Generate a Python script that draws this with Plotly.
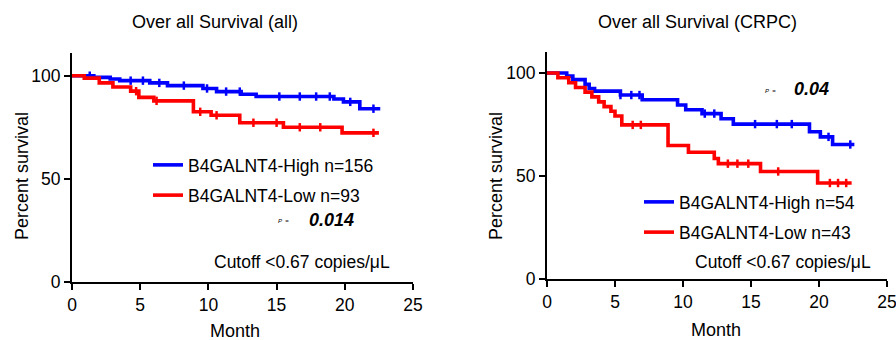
import plotly.graph_objects as go
import bisect

# ---------------- data ----------------
months_ticks = [0, 5, 10, 15, 20, 25]
surv_ticks = [0, 50, 100]

all_high_t = [0, 1.6, 2.8, 3.5, 5.7, 7.0, 9.6, 10.6, 12.4, 13.5, 19.2, 19.9, 21.1, 22.6]
all_high_s = [100, 99.2, 98.4, 97.6, 96.5, 95.2, 93.8, 92.3, 91.0, 89.9, 88.7, 87.3, 84.0, 84.0]
all_high_cens = [1.3, 4.3, 5.2, 6.4, 8.2, 9.9, 11.3, 12.3, 15.2, 16.7, 17.9, 18.9, 20.4, 22.1]

all_low_t = [0, 0.9, 2.0, 3.0, 4.3, 4.9, 6.0, 8.9, 10.2, 12.3, 15.5, 19.8, 22.5]
all_low_s = [100, 98.8, 96.5, 94.5, 92.5, 89.5, 87.8, 82.5, 80.8, 77.2, 75.0, 72.3, 72.3]
all_low_cens = [4.7, 6.2, 9.4, 10.6, 13.3, 15.0, 16.7, 18.2, 22.1]

crpc_high_t = [0, 1.45, 1.9, 2.8, 3.1, 3.5, 5.4, 7.0, 9.6, 10.2, 11.4, 12.8, 13.7, 19.3, 20.1, 21.0, 22.6]
crpc_high_s = [100, 98.5, 96.8, 94.5, 92.5, 91.2, 89.3, 87.0, 84.5, 82.2, 80.3, 77.8, 75.2, 71.5, 69.0, 65.3, 65.3]
crpc_high_cens = [5.4, 6.2, 6.8, 11.6, 12.3, 15.3, 16.9, 18.0, 20.7, 22.3]

crpc_low_t = [0, 0.8, 1.6, 2.1, 2.8, 3.3, 3.8, 4.2, 4.7, 5.0, 5.5, 8.9, 10.4, 12.3, 12.6, 15.7, 19.9, 22.4]
crpc_low_s = [100, 97.7, 95.3, 93.0, 90.7, 88.4, 86.0, 83.7, 81.4, 79.1, 74.8, 64.8, 61.5, 58.5, 56.0, 52.2, 46.6, 46.6]
crpc_low_cens = [6.3, 6.9, 13.3, 14.0, 14.8, 17.0, 20.8, 21.4, 22.0]

labels_all = ["B4GALNT4-High n=156", "B4GALNT4-Low n=93"]
labels_crpc = ["B4GALNT4-High n=54", "B4GALNT4-Low n=43"]
titles = ["Over all Survival (all)", "Over all Survival (CRPC)"]
p_values = ["0.014", "0.04"]
cutoff_text = "Cutoff <0.67 copies/\u03bcL"

BLUE = "#0000ff"
RED = "#ff0000"
FONT = "Liberation Sans, Arial, sans-serif"


def step_at(ts, ss, t):
    i = bisect.bisect_right(ts, t) - 1
    return ss[max(i, 0)]


fig = go.Figure()


def add_curve(ts, ss, cens, color, name, xa, ya, legend):
    fig.add_trace(go.Scatter(
        x=ts, y=ss, mode="lines", line=dict(color=color, width=3.6, shape="hv"),
        name=name, xaxis=xa, yaxis=ya, legend=legend, legendgroup=name,
        showlegend=True))
    fig.add_trace(go.Scatter(
        x=cens, y=[step_at(ts, ss, c) for c in cens], mode="markers",
        marker=dict(symbol="line-ns", size=6, line=dict(color=color, width=2.5)),
        xaxis=xa, yaxis=ya, showlegend=False, hoverinfo="skip"))


add_curve(all_high_t, all_high_s, all_high_cens, BLUE, labels_all[0], "x", "y", "legend")
add_curve(all_low_t, all_low_s, all_low_cens, RED, labels_all[1], "x", "y", "legend")
add_curve(crpc_high_t, crpc_high_s, crpc_high_cens, BLUE, labels_crpc[0], "x2", "y2", "legend2")
add_curve(crpc_low_t, crpc_low_s, crpc_low_cens, RED, labels_crpc[1], "x2", "y2", "legend2")

W, H = 896, 340


def px(x):
    return x / W


def py(y):
    return 1 - y / H


axis_common = dict(
    showgrid=False, zeroline=False, showline=True, linecolor="black", linewidth=2,
    ticks="outside", ticklen=6, tickwidth=2, tickcolor="black", automargin=False,
    ticklabeloverflow="allow",
    tickfont=dict(family=FONT, size=17.5, color="black"), fixedrange=True,
)

LEG_FONT = 17.5
fig.update_layout(
    width=W, height=H,
    margin=dict(l=0, r=0, t=0, b=0, autoexpand=False),
    paper_bgcolor="white", plot_bgcolor="white",
    font=dict(family=FONT, color="black"),
    xaxis=dict(domain=[px(72), px(413)], range=[0, 25], tickvals=months_ticks,
               anchor="y", **axis_common),
    yaxis=dict(domain=[py(282), py(53)], range=[0, 111], tickvals=surv_ticks,
               anchor="x", **axis_common),
    xaxis2=dict(domain=[px(547), px(887)], range=[0, 25], tickvals=months_ticks,
                anchor="y2", **axis_common),
    yaxis2=dict(domain=[py(279), py(52)], range=[0, 110.2], tickvals=surv_ticks,
                anchor="x2", **axis_common),
    legend=dict(x=px(148), y=py(147), xanchor="left", yanchor="top",
                bgcolor="rgba(0,0,0,0)", font=dict(family=FONT, size=LEG_FONT, color="black"),
                tracegroupgap=4.5, traceorder="grouped", itemwidth=30),
    legend2=dict(x=px(639), y=py(184), xanchor="left", yanchor="top",
                 bgcolor="rgba(0,0,0,0)", font=dict(family=FONT, size=LEG_FONT, color="black"),
                 tracegroupgap=4.5, traceorder="grouped", itemwidth=30),
    showlegend=True,
)

ann = []
# titles
ann.append(dict(x=px(215), y=py(22), text=titles[0], font=dict(size=18)))
ann.append(dict(x=px(697), y=py(22), text=titles[1], font=dict(size=18)))
# axis titles
ann.append(dict(x=px(22), y=py(176), text="Percent survival", textangle=-90, font=dict(size=18)))
ann.append(dict(x=px(496), y=py(176), text="Percent survival", textangle=-90, font=dict(size=18)))
ann.append(dict(x=px(235), y=py(331), text="Month", font=dict(size=18)))
ann.append(dict(x=px(716), y=py(330), text="Month", font=dict(size=18)))
# p values
ann.append(dict(x=px(283), y=py(221), text="<i>P</i>  =", font=dict(size=6)))
ann.append(dict(x=px(307), y=py(220), text="<b><i>" + p_values[0] + "</i></b>", xanchor="left", font=dict(size=18)))
ann.append(dict(x=px(770), y=py(91), text="<i>P</i>  =", font=dict(size=6)))
ann.append(dict(x=px(792), y=py(89), text="<b><i>" + p_values[1] + "</i></b>", xanchor="left", font=dict(size=18)))
# cutoff
ann.append(dict(x=px(212), y=py(262), text=cutoff_text, xanchor="left", font=dict(size=17.5)))
ann.append(dict(x=px(693), y=py(262), text=cutoff_text, xanchor="left", font=dict(size=17.5)))

for a in ann:
    a.update(xref="paper", yref="paper", showarrow=False, yanchor="middle")
    a.setdefault("xanchor", "center")
    a["font"] = dict(family=FONT, color="black", size=a["font"]["size"])
fig.update_layout(annotations=ann)

fig.write_html("out.html", post_script="document.body.style.margin='0';",
               config={"displayModeBar": False})
